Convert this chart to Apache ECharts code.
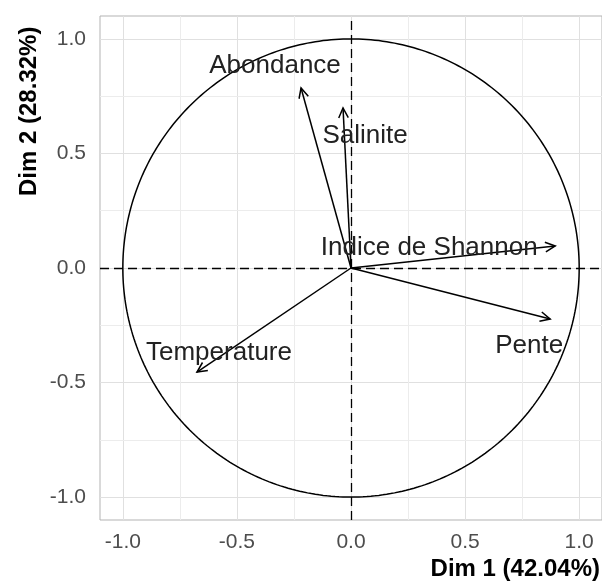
<!DOCTYPE html>
<html>
<head>
<meta charset="utf-8">
<script src="https://cdn.jsdelivr.net/npm/echarts@6/dist/echarts.min.js"></script>
<style>html,body{margin:0;padding:0;background:#fff;}#c{width:602px;height:588px;}</style>
</head>
<body>
<div id="c"></div>
<script>
// ---- data ----
const variables = ['Abondance', 'Salinite', 'Indice de Shannon', 'Pente', 'Temperature'];
const dim1 = [-0.219, -0.035, 0.895, 0.873, -0.675];
const dim2 = [0.786, 0.699, 0.096, -0.223, -0.454];
const tickValues = [-1.0, -0.5, 0.0, 0.5, 1.0];
const minorValues = [-0.75, -0.25, 0.25, 0.75];
const xTitle = 'Dim 1 (42.04%)';
const yTitle = 'Dim 2 (28.32%)';

// ---- style (pixel label offsets from arrow tips) ----
const labelOffsets = [[-26, -22], [22, 28], [-126, 2], [-21, 27], [22, -19]];

const circle = [];
for (let i = 0; i <= 360; i++) {
  const a = i * Math.PI / 180;
  circle.push([Math.cos(a), Math.sin(a)]);
}

const gridLines = [];
tickValues.forEach(v => {
  gridLines.push({xAxis: v, lineStyle: {color: '#e0e0e0', width: 1, type: 'solid'}});
  gridLines.push({yAxis: v, lineStyle: {color: '#e0e0e0', width: 1, type: 'solid'}});
});
minorValues.forEach(v => {
  gridLines.push({xAxis: v, lineStyle: {color: '#ececec', width: 1, type: 'solid'}});
  gridLines.push({yAxis: v, lineStyle: {color: '#ececec', width: 1, type: 'solid'}});
});

const fmt = v => (v < 0 ? '-' : '') + Math.abs(v).toFixed(1);
const FONT = 'Liberation Sans, Arial, sans-serif';
const axisCommon = {
  type: 'value', min: -1.1, max: 1.1,
  axisLine: {show: false},
  splitLine: {show: false},
  axisTick: {show: true, customValues: tickValues, length: 6, lineStyle: {color: '#b3b3b3', width: 1}},
  axisLabel: {customValues: tickValues, formatter: fmt, color: '#4d4d4d', fontSize: 21, fontFamily: FONT}
};

const arrowData = variables.map((n, i) => [dim1[i], dim2[i], i]);

const chart = echarts.init(document.getElementById('c'), null, {renderer: 'canvas'});
chart.setOption({
  animation: false,
  backgroundColor: '#fff',
  grid: {left: 100, right: 0, top: 16, bottom: 68, show: true, borderColor: '#b3b3b3', borderWidth: 1, backgroundColor: '#fff'},
  xAxis: Object.assign({}, axisCommon, {axisLabel: Object.assign({}, axisCommon.axisLabel, {margin: 12})}),
  yAxis: Object.assign({}, axisCommon, {axisLabel: Object.assign({}, axisCommon.axisLabel, {margin: 14})}),
  graphic: [
    {type: 'text', right: 2, top: 557, style: {text: xTitle, fontSize: 24, fontWeight: 'bold', fill: '#000', fontFamily: FONT}},
    {type: 'text', x: 17, y: 196, rotation: Math.PI / 2, style: {text: yTitle, fontSize: 24, fontWeight: 'bold', fill: '#000', fontFamily: FONT, textAlign: 'left', textVerticalAlign: 'top'}}
  ],
  series: [
    {
      type: 'line', data: [], silent: true, z: 1,
      markLine: {silent: true, z: 1, symbol: 'none', label: {show: false}, animation: false, data: gridLines}
    },
    {
      type: 'line', data: [], silent: true, z: 2,
      markLine: {silent: true, z: 2, symbol: 'none', label: {show: false}, animation: false,
        lineStyle: {color: '#000', width: 1.3, type: [9, 5]},
        data: [{xAxis: 0}, {yAxis: 0}]}
    },
    {
      type: 'line', data: circle, showSymbol: false, silent: true, z: 3,
      lineStyle: {color: '#000', width: 1.5}
    },
    {
      type: 'custom', z: 10, silent: true,
      data: arrowData,
      renderItem: function (params, api) {
        const i = api.value(2);
        const o = api.coord([0, 0]);
        const t = api.coord([api.value(0), api.value(1)]);
        const ang = Math.atan2(t[1] - o[1], t[0] - o[0]);
        const L = 11, w = 0.45;
        const h1 = [t[0] - L * Math.cos(ang - w), t[1] - L * Math.sin(ang - w)];
        const h2 = [t[0] - L * Math.cos(ang + w), t[1] - L * Math.sin(ang + w)];
        const off = labelOffsets[i];
        return {
          type: 'group',
          children: [
            {type: 'line', shape: {x1: o[0], y1: o[1], x2: t[0], y2: t[1]}, style: {stroke: '#000', lineWidth: 1.5}},
            {type: 'polyline', shape: {points: [h1, t, h2]}, style: {stroke: '#000', lineWidth: 1.5, fill: null}},
            {type: 'text', x: t[0] + off[0], y: t[1] + off[1],
              style: {text: variables[i], fontSize: 26, fill: '#222', fontFamily: FONT, textAlign: 'center', textVerticalAlign: 'middle'}}
          ]
        };
      }
    }
  ]
});
</script>
</body>
</html>
